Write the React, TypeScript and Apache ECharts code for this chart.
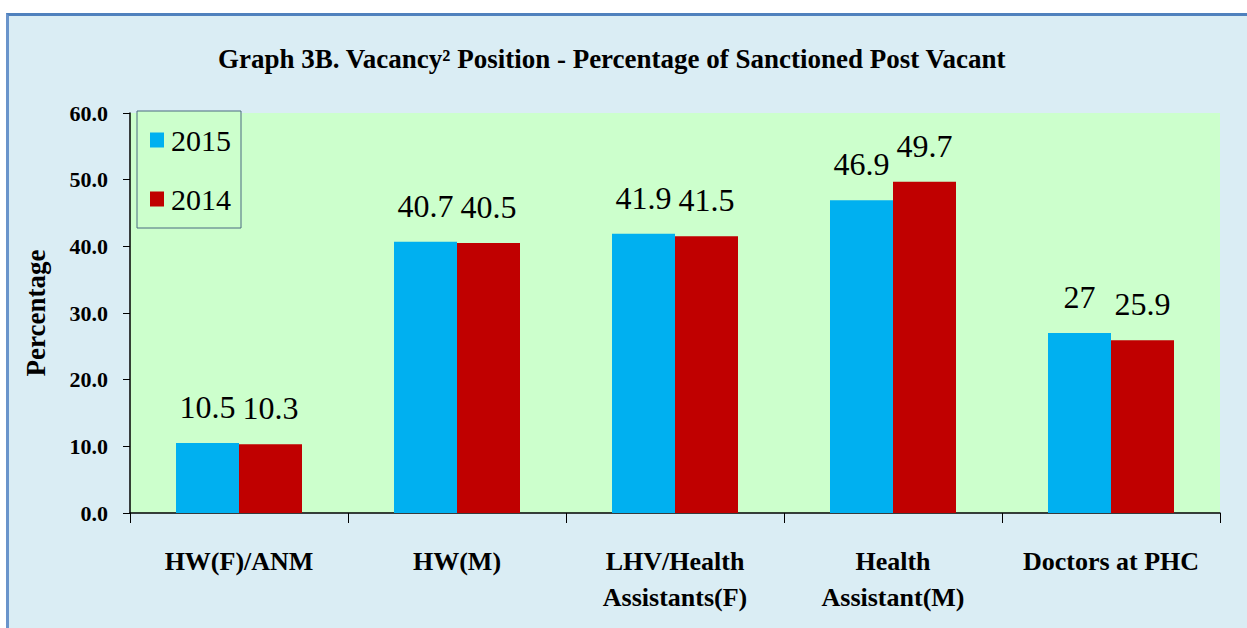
import React, { useEffect, useRef } from "react";
import * as echarts from "echarts";

const categories = [
  "HW(F)/ANM",
  "HW(M)",
  "LHV/Health\nAssistants(F)",
  "Health\nAssistant(M)",
  "Doctors at PHC",
];
const series2015 = [10.5, 40.7, 41.9, 46.9, 27];
const series2014 = [10.3, 40.5, 41.5, 49.7, 25.9];
const yTicks = { min: 0, max: 60, interval: 10 };
const titleText = "Graph 3B. Vacancy\u00B2 Position - Percentage of Sanctioned Post Vacant";
const yName = "Percentage";

const FONT = "Liberation Serif";

export default function App() {
  const ref = useRef<HTMLDivElement>(null);
  useEffect(() => {
    if (!ref.current) return;
    const chart = echarts.init(ref.current, null, { renderer: "svg" });
    const labelStyle = {
      show: true,
      position: "top" as const,
      distance: 20,
      fontFamily: FONT,
      fontSize: 32,
      lineHeight: 32,
      color: "#000",
    };
    chart.setOption({
      animation: false,
      backgroundColor: "transparent",
      title: {
        text: titleText,
        left: 218,
        top: 44,
        padding: 0,
        textStyle: {
          fontFamily: FONT,
          fontWeight: "bold",
          fontSize: 27,
          lineHeight: 30,
          color: "#000",
        },
      },
      legend: {
        orient: "vertical",
        left: 137,
        top: 111,
        padding: [14, 10, 14, 13],
        itemGap: 29,
        itemWidth: 14,
        itemHeight: 15,
        icon: "rect",
        backgroundColor: "#CCFFCC",
        borderColor: "#4B6B80",
        borderWidth: 1,
        borderRadius: 0,
        textStyle: {
          fontFamily: FONT,
          fontSize: 30,
          lineHeight: 30,
          color: "#000",
          padding: [0, 0, 0, 2],
        },
        data: ["2015", "2014"],
      },
      grid: {
        left: 130,
        right: 27,
        top: 113,
        bottom: 115,
        show: true,
        backgroundColor: "#CCFFCC",
        borderWidth: 0,
      },
      xAxis: {
        type: "category",
        data: categories,
        axisLine: { show: true, lineStyle: { color: "#000", width: 1.5 } },
        axisTick: { show: true, length: 10, lineStyle: { color: "#000" } },
        axisLabel: {
          margin: 30,
          interval: 0,
          fontFamily: FONT,
          fontWeight: "bold",
          fontSize: 26,
          lineHeight: 36,
          color: "#000",
        },
      },
      yAxis: {
        type: "value",
        min: yTicks.min,
        max: yTicks.max,
        interval: yTicks.interval,
        name: yName,
        nameLocation: "middle",
        nameGap: 81,
        nameRotate: 90,
        nameTextStyle: {
          fontFamily: FONT,
          fontWeight: "bold",
          fontSize: 27,
          color: "#000",
        },
        splitLine: { show: false },
        axisLine: { show: true, lineStyle: { color: "#000", width: 1.5 } },
        axisTick: { show: true, length: 7, lineStyle: { color: "#000" } },
        axisLabel: {
          margin: 22,
          formatter: (v: number) => v.toFixed(1),
          fontFamily: FONT,
          fontWeight: "bold",
          fontSize: 22,
          color: "#000",
        },
      },
      series: [
        {
          name: "2015",
          type: "bar",
          data: series2015,
          barWidth: 63,
          barGap: "0%",
          itemStyle: { color: "#00B0F0" },
          label: labelStyle,
        },
        {
          name: "2014",
          type: "bar",
          data: series2014,
          barWidth: 63,
          barGap: "0%",
          itemStyle: { color: "#C00000" },
          label: labelStyle,
        },
      ],
    });
    return () => chart.dispose();
  }, []);

  return (
    <div
      style={{
        position: "absolute",
        left: 0,
        top: 0,
        width: 1247,
        height: 628,
        overflow: "hidden",
        background: "#FFFFFF",
      }}
    >
      <div
        style={{
          position: "absolute",
          left: 6,
          top: 13,
          width: 1300,
          height: 700,
          background: "#DAEDF4",
          borderTop: "3px solid #4F81BD",
          borderLeft: "3px solid #6A94CB",
        }}
      />
      <div
        ref={ref}
        style={{ position: "absolute", left: 0, top: 0, width: 1247, height: 628 }}
      />
    </div>
  );
}
